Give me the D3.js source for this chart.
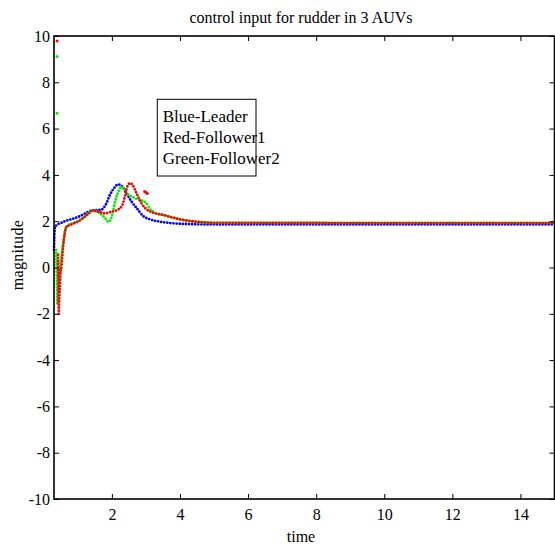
<!DOCTYPE html>
<html>
<head>
<meta charset="utf-8">
<script src="https://cdn.jsdelivr.net/npm/d3@7/dist/d3.min.js"></script>
<style>
  html, body { margin: 0; padding: 0; background: #fff; }
  svg { display: block; }
  text { font-family: "Liberation Serif", "Times New Roman", serif; fill: #000; }
</style>
</head>
<body>
<svg id="chart" width="555" height="545"></svg>
<script>
// Rudder control input of the three AUVs (time in s, magnitude)
const leaderT = [0.30, 0.31, 0.33, 0.37, 0.50, 0.62, 0.85, 1.00, 1.15, 1.30, 1.45, 1.60, 1.70, 1.77, 1.84, 1.94, 2.06, 2.19, 2.31, 2.43, 2.58, 2.73, 2.92, 3.12, 3.41, 3.80, 4.39, 5.00, 10.0, 15.0];
const leaderV = [0.76, 1.30, 1.75, 1.82, 1.92, 2.00, 2.10, 2.18, 2.28, 2.40, 2.47, 2.48, 2.50, 2.60, 2.77, 3.13, 3.42, 3.59, 3.49, 3.20, 2.84, 2.56, 2.22, 2.08, 1.98, 1.91, 1.87, 1.86, 1.86, 1.86];

const follower1T = [0.42, 0.43, 0.44, 0.45, 0.47, 0.49, 0.52, 0.57, 0.62, 0.67, 0.80, 1.00, 1.15, 1.30, 1.45, 1.60, 1.80, 1.99, 2.19, 2.31, 2.38, 2.45, 2.53, 2.61, 2.68, 2.77, 2.87, 3.02, 3.21, 3.51, 4.00, 4.49, 5.00, 10.0, 15.0];
const follower1V = [0.55, -0.60, -2.00, -1.60, -0.90, -0.30, 0.05, 0.90, 1.48, 1.76, 1.85, 1.98, 2.12, 2.30, 2.46, 2.41, 2.34, 2.41, 2.51, 2.70, 3.06, 3.49, 3.64, 3.56, 3.35, 3.06, 2.77, 2.51, 2.37, 2.27, 2.08, 1.98, 1.93, 1.92, 1.92];

const follower2T = [0.36, 0.38, 0.40, 0.42, 0.46, 0.50, 0.57, 0.62, 0.67, 0.80, 1.00, 1.15, 1.30, 1.45, 1.65, 1.80, 1.89, 1.96, 2.04, 2.12, 2.19, 2.27, 2.35, 2.45, 2.63, 2.82, 3.00, 3.10, 3.26, 3.61, 4.00, 4.39, 5.00, 10.0, 15.0];
const follower2V = [0.75, -0.30, -1.60, -1.00, -0.20, 0.30, 1.10, 1.60, 1.78, 1.88, 2.00, 2.15, 2.35, 2.45, 2.34, 2.13, 1.98, 2.05, 2.48, 2.99, 3.27, 3.49, 3.42, 3.20, 3.03, 2.92, 2.80, 2.56, 2.37, 2.22, 2.08, 1.98, 1.93, 1.93, 1.93];

// isolated samples that sit apart from the traces
const follower1SpikeT = [0.39, 2.96, 3.00, 3.04];
const follower1SpikeV = [9.78, 3.28, 3.25, 3.20];
const follower2SpikeT = [0.39, 0.39];
const follower2SpikeV = [9.11, 6.66];

const xTicks = [2, 4, 6, 8, 10, 12, 14];
const yTicks = [-10, -8, -6, -4, -2, 0, 2, 4, 6, 8, 10];

const legendLabels = ["Blue-Leader", "Red-Follower1", "Green-Follower2"];
const titleText = "control input for rudder in 3 AUVs";
const xLabel = "time";
const yLabel = "magnitude";

const svg = d3.select("#chart");
const plotLeft = 54, plotRight = 554.5, plotTop = 36, plotBottom = 499;

const x = d3.scaleLinear().domain([0.3, 15]).range([plotLeft, plotRight]);
const y = d3.scaleLinear().domain([-10, 10]).range([plotBottom, plotTop]);

svg.append("rect").attr("width", 555).attr("height", 545).attr("fill", "#fff");

// traces drawn as runs of dots
const line = d3.line().x(d => x(d[0])).y(d => y(d[1])).curve(d3.curveMonotoneX);
const series = [
  { t: leaderT, v: leaderV, color: "#0000ff" },
  { t: follower2T, v: follower2V, color: "#00ee00" },
  { t: follower1T, v: follower1V, color: "#ff0000" }
];
const plot = svg.append("g");
series.forEach(s => {
  const pts = s.t.map((t, i) => [t, s.v[i]]);
  plot.append("path")
    .attr("d", line(pts))
    .attr("fill", "none")
    .attr("stroke", s.color)
    .attr("stroke-width", 2.8)
    .attr("stroke-linecap", "round")
    .attr("stroke-dasharray", "0 3.1");
});

const spikes = [
  { t: follower2SpikeT, v: follower2SpikeV, color: "#00ee00" },
  { t: follower1SpikeT, v: follower1SpikeV, color: "#ff0000" }
];
spikes.forEach(s => {
  plot.selectAll(null)
    .data(s.t.map((t, i) => [t, s.v[i]]))
    .join("circle")
    .attr("cx", d => x(d[0]))
    .attr("cy", d => y(d[1]))
    .attr("r", 1.5)
    .attr("fill", s.color);
});

// axes with inward ticks on all four sides; plain hyphen for negatives
const fmt = d => String(d);
const fontSize = "16px";
const gB = svg.append("g").attr("transform", `translate(0,${plotBottom})`)
  .call(d3.axisBottom(x).tickValues(xTicks).tickFormat(fmt).tickSize(-5).tickPadding(9.6));
const gT = svg.append("g").attr("transform", `translate(0,${plotTop})`)
  .call(d3.axisTop(x).tickValues(xTicks).tickSize(-5).tickFormat(""));
const gL = svg.append("g").attr("transform", `translate(${plotLeft},0)`)
  .call(d3.axisLeft(y).tickValues(yTicks).tickFormat(fmt).tickSize(-5).tickPadding(4));
const gR = svg.append("g").attr("transform", `translate(${plotRight},0)`)
  .call(d3.axisRight(y).tickValues(yTicks).tickSize(-5).tickFormat(""));
[gB, gT, gL, gR].forEach(g => {
  g.select(".domain").remove();
  g.selectAll(".tick line").attr("stroke", "#000").attr("stroke-width", 1);
  g.selectAll("text").attr("font-family", "Liberation Serif").attr("font-size", fontSize).attr("fill", "#000");
});

svg.append("rect")
  .attr("x", plotLeft).attr("y", plotTop)
  .attr("width", plotRight - plotLeft).attr("height", plotBottom - plotTop)
  .attr("fill", "none").attr("stroke", "#000").attr("stroke-width", 1.6);

// legend box
const lg = svg.append("g");
lg.append("rect")
  .attr("x", 157.3).attr("y", 99.3).attr("width", 98.7).attr("height", 76.7)
  .attr("fill", "none").attr("stroke", "#000").attr("stroke-width", 1);
lg.selectAll("text")
  .data(legendLabels)
  .join("text")
  .attr("x", 162.7)
  .attr("y", (d, i) => 122.3 + i * 20.9)
  .attr("font-size", "17px")
  .text(d => d);

// titles
svg.append("text").attr("x", 301).attr("y", 23).attr("text-anchor", "middle")
  .attr("font-size", "16px").text(titleText);
svg.append("text").attr("x", 301).attr("y", 542).attr("text-anchor", "middle")
  .attr("font-size", "16px").text(xLabel);
svg.append("text").attr("transform", "translate(23,255) rotate(-90)").attr("text-anchor", "middle")
  .attr("font-size", "16px").attr("letter-spacing", "0.3px").text(yLabel);
</script>
</body>
</html>
